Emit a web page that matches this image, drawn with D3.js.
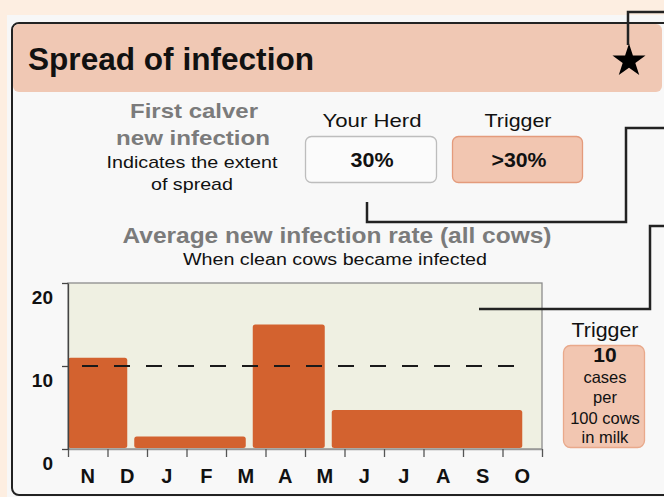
<!DOCTYPE html>
<html lang="en">
<head>
<meta charset="utf-8">
<title>Spread of infection</title>
<script src="https://cdn.jsdelivr.net/npm/d3@7"></script>
<style>
  body { margin: 0; background: #fdeee1; }
  svg { display: block; font-family: "Liberation Sans", Arial, sans-serif; }
</style>
</head>
<body>
<script>
    // month labels along the x axis (November to October)
    var months = ["N", "D", "J", "F", "M", "A", "M", "J", "J", "A", "S", "O"];
    // each bar runs from the middle of one month to the middle of another (index into months)
    var binFrom = [-1, 1, 4, 6];
    var binTo = [1, 4, 6, 11];
    // new infections per 100 cows in milk
    var rates = [11, 1.5, 15, 4.7];
    var yTicks = [0, 10, 20];
    var triggerRate = 10;
    var herdValue = "30%";
    var triggerValue = ">30%";
    var triggerLines = ["cases", "per", "100 cows", "in milk"];

    var width = 664;
    var height = 497;
    var barColor = "#d3622f";
    var grayText = "#7b7b7b";

    var svg = d3.select("body").append("svg")
        .attr("width", width)
        .attr("height", height);

    // page background and panel
    svg.append("rect").attr("width", width).attr("height", height).attr("fill", "#fdeee1");
    svg.append("rect").attr("x", 7).attr("y", 15).attr("width", width).attr("height", height)
        .attr("fill", "#f7f7f7");
    svg.append("rect").attr("x", 12).attr("y", 23).attr("width", 660).attr("height", 472)
        .attr("rx", 7).attr("fill", "#f8f8f8").attr("stroke", "#222").attr("stroke-width", 2);
    svg.append("rect").attr("x", 13).attr("y", 24).attr("width", 649).attr("height", 68)
        .attr("rx", 6).attr("fill", "#f0c8b4");

    function label(text, x, y, size, weight, color, len) {
        var t = svg.append("text")
            .attr("x", x)
            .attr("y", y)
            .attr("text-anchor", "middle")
            .attr("font-size", size)
            .attr("font-weight", weight)
            .attr("fill", color)
            .text(text);
        if (len) t.attr("textLength", len).attr("lengthAdjust", "spacingAndGlyphs");
        return t;
    }

    label("Spread of infection", 28, 70, 31, "bold", "#111", 286).attr("text-anchor", "start");

    // star marker
    svg.append("path")
        .attr("d", d3.symbol().type(d3.symbolStar).size(340))
        .attr("transform", "translate(629,61)")
        .attr("fill", "#000");

    // first calver block
    label("First calver", 194, 118, 21, "bold", grayText, 128);
    label("new infection", 193, 145, 21, "bold", grayText, 154);
    label("Indicates the extent", 192, 168, 17, "normal", "#111", 171);
    label("of spread", 192, 190, 17, "normal", "#111", 82);

    label("Your Herd", 372, 127, 19, "normal", "#111", 99);
    label("Trigger", 518, 127, 19, "normal", "#111", 67);
    svg.append("rect").attr("x", 305.5).attr("y", 136.5).attr("width", 131).attr("height", 46)
        .attr("rx", 6).attr("fill", "#fbfbfb").attr("stroke", "#bdbdbd").attr("stroke-width", 1.3);
    svg.append("rect").attr("x", 452.5).attr("y", 136.5).attr("width", 130).attr("height", 46)
        .attr("rx", 6).attr("fill", "#f2c6b1").attr("stroke", "#e49b7c").attr("stroke-width", 1.3);
    label(herdValue, 372, 167, 20, "bold", "#111", 43);
    label(triggerValue, 519, 167, 20, "bold", "#111", 55);

    label("Average new infection rate (all cows)", 337, 243, 22, "bold", grayText, 429);
    label("When clean cows became infected", 335, 265, 16, "normal", "#111", 304);

    // chart
    var x = d3.scaleLinear().domain([0, 12]).range([68, 542]);
    var y = d3.scaleLinear().domain([0, 20]).range([449, 283]);
    var band = d3.scaleBand().domain(d3.range(months.length)).range([68, 542]);

    function mid(i) { return x(i + 0.5); }

    svg.append("rect")
        .attr("x", x(0)).attr("y", y(20))
        .attr("width", x(12) - x(0)).attr("height", y(0) - y(20))
        .attr("fill", "#eff0e2")
        .attr("stroke", "#8c8c8c")
        .attr("stroke-width", 1.3);

    var bars = rates.map(function (v, i) {
        var x0 = Math.max(x(0), mid(binFrom[i]) + 7);
        return { x0: x0, x1: mid(binTo[i]), value: v };
    });

    svg.append("g").selectAll("rect").data(bars).enter().append("rect")
        .attr("x", function (d) { return d.x0; })
        .attr("y", function (d) { return y(d.value); })
        .attr("width", function (d) { return d.x1 - d.x0; })
        .attr("height", function (d) { return y(0) - 1 - y(d.value); })
        .attr("rx", 2.5)
        .attr("fill", barColor);

    // trigger line
    svg.append("line")
        .attr("x1", x(0) + 14).attr("x2", x(12) - 25)
        .attr("y1", y(triggerRate)).attr("y2", y(triggerRate))
        .attr("stroke", "#1a1a1a")
        .attr("stroke-width", 2)
        .attr("stroke-dasharray", "16,16");

    // month boundary ticks
    var tickAxis = svg.append("g")
        .attr("transform", "translate(0," + y(0) + ")")
        .call(d3.axisBottom(x).tickValues(d3.range(0, 13)).tickSize(8).tickSizeOuter(0).tickFormat(""));
    tickAxis.select(".domain").attr("stroke", "#999").attr("stroke-width", 1.3);
    tickAxis.selectAll(".tick line").attr("stroke", "#555").attr("stroke-width", 1.3);

    // month labels
    var monthAxis = svg.append("g")
        .attr("transform", "translate(0," + y(0) + ")")
        .call(d3.axisBottom(band).tickSize(0).tickPadding(20).tickFormat(function (i) { return months[i]; }));
    monthAxis.select(".domain").remove();
    monthAxis.selectAll("text")
        .attr("font-family", "Liberation Sans, Arial, sans-serif")
        .attr("font-size", 20)
        .attr("font-weight", "bold")
        .attr("fill", "#111");

    var yAxis = svg.append("g")
        .attr("transform", "translate(" + x(0) + ",0)")
        .call(d3.axisLeft(y).tickValues(yTicks).tickSize(6).tickSizeOuter(0));
    yAxis.select(".domain").attr("stroke", "#444").attr("stroke-width", 1.3);
    yAxis.selectAll(".tick line").attr("stroke", "#444").attr("stroke-width", 1.3);
    yAxis.selectAll("text")
        .attr("x", -15)
        .attr("dy", 20)
        .attr("font-family", "Liberation Sans, Arial, sans-serif")
        .attr("font-size", 19)
        .attr("font-weight", "bold")
        .attr("fill", "#111");

    // trigger box on the right
    label("Trigger", 605, 337, 21, "normal", "#111", 67);
    svg.append("rect").attr("x", 563.5).attr("y", 345.5).attr("width", 81).attr("height", 102)
        .attr("rx", 7).attr("fill", "#f2c6b1").attr("stroke", "#e9a98b").attr("stroke-width", 1.3);
    label(triggerRate, 605, 362, 21, "bold", "#111");
    var lineY = [383, 403, 424, 443];
    triggerLines.forEach(function (t, i) {
        label(t, 605, lineY[i], 16.5, "normal", "#111");
    });

    // connector lines running off the right edge, drawn on top of everything
    var line = d3.line();
    var connectors = [
        [[628, 45], [628, 12], [666, 12]],
        [[367, 202], [367, 222], [626, 222], [626, 128], [666, 128]],
        [[479, 309], [650, 309], [650, 226], [666, 226]]
    ];
    svg.selectAll(".connector").data(connectors).enter().append("path")
        .attr("class", "connector")
        .attr("d", line)
        .attr("fill", "none")
        .attr("stroke", "#222")
        .attr("stroke-width", 2.5);
</script>
</body>
</html>
